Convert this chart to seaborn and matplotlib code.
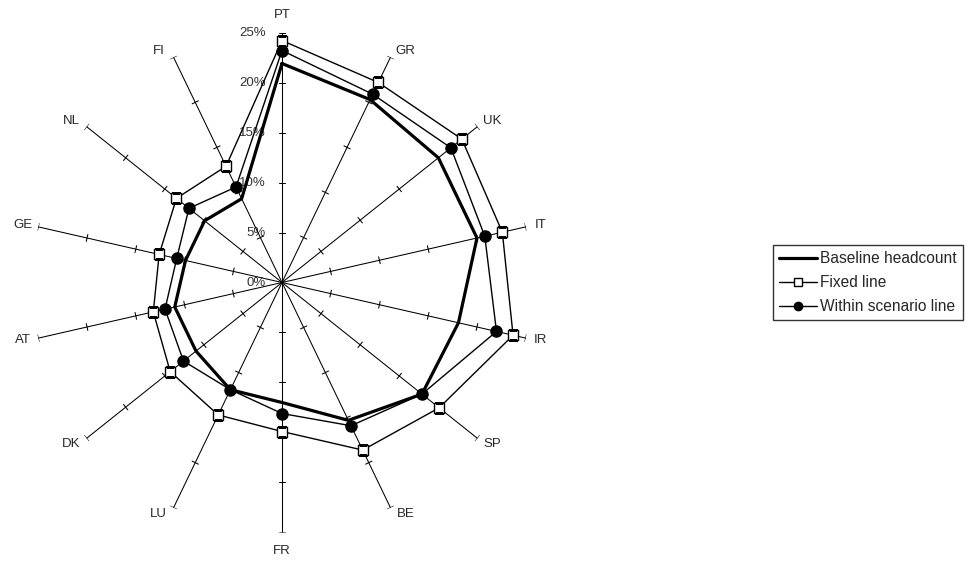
import numpy as np
import pandas as pd
import matplotlib
matplotlib.use('Agg')
import matplotlib.pyplot as plt
from matplotlib.lines import Line2D
import seaborn as sns

sns.set_style('white')
plt.rcParams['font.family'] = ['Liberation Sans', 'DejaVu Sans']

# data (percent of headcount), clockwise from the top
countries = ['PT', 'GR', 'UK', 'IT', 'IR', 'SP', 'BE', 'FR', 'LU', 'DK', 'AT', 'GE', 'NL', 'FI']
baseline = [21.9, 20.3, 20.0, 20.0, 18.1, 17.9, 15.3, 12.0, 11.9, 11.0, 11.0, 9.9, 9.9, 9.3]
fixed_line = [24.2, 22.2, 23.0, 22.6, 23.7, 20.1, 18.6, 14.9, 14.7, 14.3, 13.2, 12.6, 13.5, 12.9]
within_line = [23.2, 20.9, 21.6, 20.8, 22.0, 17.9, 15.9, 13.1, 11.9, 12.6, 12.0, 10.8, 11.9, 10.6]
ring_ticks = [0, 5, 10, 15, 20, 25]
rmax = 25

n = len(countries)
theta = np.arange(n) * 2 * np.pi / n
theta_closed = np.append(theta, 2 * np.pi)


def closed(vals):
    return pd.DataFrame({'theta': theta_closed, 'value': list(vals) + [vals[0]]})


fig = plt.figure(figsize=(9.71, 5.61), dpi=100)
ax = fig.add_axes([32 / 971, 28.5 / 561, 500 / 971, 500 / 561], projection='polar')
ax.set_theta_zero_location('N')
ax.set_theta_direction(-1)
ax.grid(False)
ax.spines['polar'].set_visible(False)
ax.patch.set_alpha(0)

# spokes with small cross ticks every 5%
half = 0.35
for t in theta:
    ax.plot([t, t], [0, rmax], color='black', lw=0.75, zorder=1)
    for r in ring_ticks[1:]:
        d = half / r
        ax.plot([t - d, t + d], [r, r], color='black', lw=0.75, zorder=1)

# percent labels on the first spoke
for r in ring_ticks:
    ax.annotate(f'{r}%', xy=(0, r), xytext=(-16, 0), textcoords='offset pixels',
                ha='right', va='center', fontsize=9.5, color='#333333', zorder=0)

# category labels next to the spoke ends
for t, name in zip(theta, countries):
    s, c = np.sin(t), np.cos(t)
    if abs(s) < 1e-6:
        dx, dy = 0, 18 * np.sign(c)
    else:
        dx = 15 * np.sign(s)
        dy = 6 * np.sign(c) if abs(c) > 0.5 else 8 * c
    ax.annotate(name, xy=(t, rmax), xytext=(dx, dy), textcoords='offset pixels',
                ha='center', va='center', fontsize=9.5, annotation_clip=False)

# series
sns.lineplot(data=closed(baseline), x='theta', y='value', sort=False, estimator=None,
             color='black', lw=2.3, ax=ax, zorder=3)
sns.lineplot(data=closed(fixed_line), x='theta', y='value', sort=False, estimator=None,
             color='black', lw=1.0, ax=ax, zorder=4)
sns.lineplot(data=closed(within_line), x='theta', y='value', sort=False, estimator=None,
             color='black', lw=1.0, ax=ax, zorder=5)
sns.scatterplot(x=theta, y=fixed_line, marker='s', s=56, color='white', edgecolor='black',
                linewidth=1.0, ax=ax, zorder=6, legend=False)
sns.scatterplot(x=theta, y=within_line, marker='o', s=64, color='black', edgecolor='black',
                linewidth=1.0, ax=ax, zorder=7, legend=False)
ax.set_xlabel('')
ax.set_ylabel('')
ax.set_xticks([])
ax.set_yticks([])
ax.set_ylim(0, rmax)

handles = [
    Line2D([], [], color='black', lw=2.3),
    Line2D([], [], color='black', lw=1.0, marker='s', ms=6, mfc='white', mec='black'),
    Line2D([], [], color='black', lw=1.0, marker='o', ms=6, mfc='black', mec='black'),
]
labels = ['Baseline headcount', 'Fixed line', 'Within scenario line']
leg = fig.legend(handles, labels, loc='upper left', bbox_to_anchor=(773 / 971, 1 - 245 / 561),
                 fontsize=11.2, frameon=True, fancybox=False, edgecolor='black',
                 handlelength=2.4, handletextpad=0.2, labelspacing=0.58,
                 borderpad=0.4, borderaxespad=0)
leg.get_frame().set_linewidth(1.0)

fig.savefig('out.png', dpi=100)
